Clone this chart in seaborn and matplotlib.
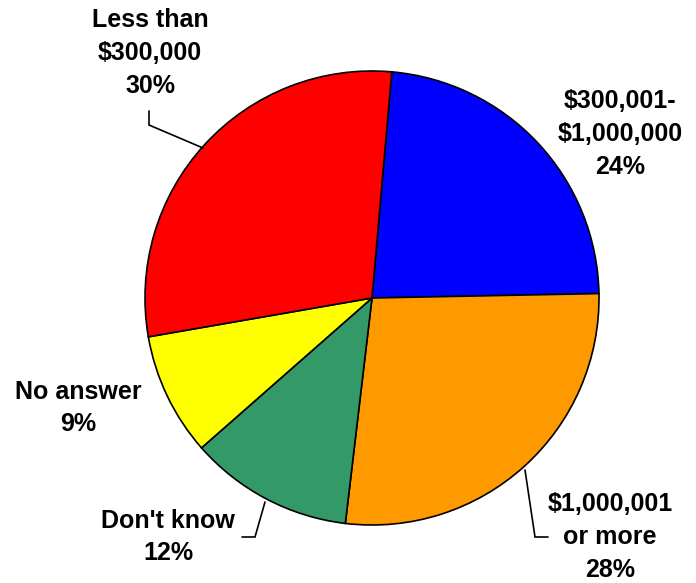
import matplotlib
matplotlib.use("Agg")
import matplotlib.pyplot as plt
import seaborn as sns

# Survey shares by value band (percent, as labelled)
categories = ["$300,001-\n$1,000,000", "$1,000,001\nor more", "Don't know",
              "No answer", "Less than\n$300,000"]
shares = [24, 28, 12, 9, 30]
slice_colors = ["#0000FF", "#FF9900", "#339966", "#FFFF00", "#FF0000"]

sns.set_theme(style="white")
plt.rcParams["font.family"] = ["Liberation Sans", "DejaVu Sans"]

W, H = 696, 583
fig = plt.figure(figsize=(W / 100, H / 100), dpi=100)
ax = fig.add_axes([0, 0, 1, 1])

cx, cy, r = 372, H - 298, 227
palette = sns.color_palette(slice_colors)
wedges, _ = ax.pie(shares, colors=palette, startangle=85.0, counterclock=False,
                   center=(cx, cy), radius=r,
                   wedgeprops=dict(edgecolor="black", linewidth=1.2))
ax.set_xlim(0, W)
ax.set_ylim(0, H)
ax.set_aspect("equal")
ax.axis("off")

# Label positions (pixel coords measured from top)
label_pos = [(620, 134), (610, 537), (168, 537), (78, 408), (150, 53)]
for text, pct, (x, y) in zip(categories, shares, label_pos):
    ax.text(x, H - y, f"{text}\n{pct}%", ha="center", va="center",
            fontsize=18, fontweight="bold", color="black", linespacing=1.45)

# Leader lines
leaders = [
    [(149, 111), (149, 125), (203, 148)],
    [(525, 470), (535, 537), (548, 537)],
    [(265, 502), (255, 537), (242, 537)],
]
for pts in leaders:
    xs = [p[0] for p in pts]
    ys = [H - p[1] for p in pts]
    ax.plot(xs, ys, color="black", linewidth=1.2, solid_joinstyle="miter")

fig.savefig("out.png", dpi=100)
